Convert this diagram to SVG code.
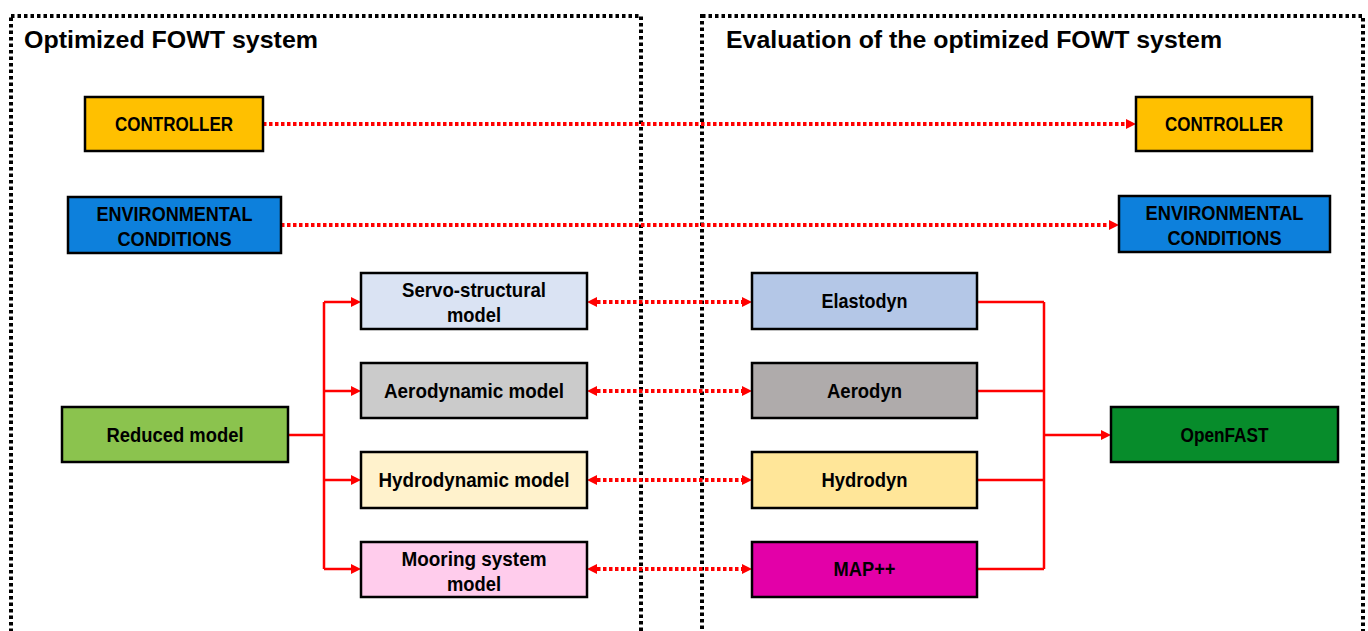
<svg xmlns="http://www.w3.org/2000/svg" width="1368" height="631" viewBox="0 0 1368 631">
<defs>
<style>
.frame{fill:none;stroke:#000;stroke-width:4;stroke-dasharray:3.5 3}
.box{stroke:#000;stroke-width:2.5}
.t{font-family:"Liberation Sans",Arial,sans-serif;font-weight:bold;font-size:20.5px;fill:#000;text-anchor:middle}
.title{font-family:"Liberation Sans",Arial,sans-serif;font-weight:bold;font-size:24px;fill:#000}
.solid{fill:none;stroke:#f00;stroke-width:2.5}
.dot{fill:none;stroke:#f00;stroke-width:4;stroke-dasharray:3.5 2.5}
</style>
<marker id="ah" viewBox="0 0 10 10" refX="0" refY="5" markerWidth="10" markerHeight="10" markerUnits="userSpaceOnUse" orient="auto-start-reverse">
<path d="M0,0 L10,5 L0,10 Z" fill="#f00"/>
</marker>
</defs>

<g id="frames">
<rect class="frame" x="11" y="16" width="630" height="640"/>
<rect class="frame" x="702" y="16" width="661" height="640"/>
<text class="title" x="24" y="48" textLength="294" lengthAdjust="spacingAndGlyphs">Optimized FOWT system</text>
<text class="title" x="726" y="48" textLength="496" lengthAdjust="spacingAndGlyphs">Evaluation of the optimized FOWT system</text>
</g>

<g id="connectors">
<path class="dot" d="M263,124 H1126" marker-end="url(#ah)"/>
<path class="dot" d="M281,225 H1109" marker-end="url(#ah)"/>
<path class="dot" d="M597,302 H742" marker-start="url(#ah)" marker-end="url(#ah)"/>
<path class="dot" d="M597,391 H742" marker-start="url(#ah)" marker-end="url(#ah)"/>
<path class="dot" d="M597,480 H742" marker-start="url(#ah)" marker-end="url(#ah)"/>
<path class="dot" d="M597,569 H742" marker-start="url(#ah)" marker-end="url(#ah)"/>
<path class="solid" d="M288,435 H324 M324,302 V569"/>
<path class="solid" d="M324,302 H351" marker-end="url(#ah)"/>
<path class="solid" d="M324,391 H351" marker-end="url(#ah)"/>
<path class="solid" d="M324,480 H351" marker-end="url(#ah)"/>
<path class="solid" d="M324,569 H351" marker-end="url(#ah)"/>
<path class="solid" d="M977,302 H1044 M977,391 H1044 M977,480 H1044 M977,569 H1044 M1044,302 V569"/>
<path class="solid" d="M1044,435 H1101" marker-end="url(#ah)"/>
</g>

<g id="controller-left">
<rect class="box" x="85" y="97" width="178" height="54" fill="#FFC000"/>
<text class="t" x="174" y="131" textLength="118" lengthAdjust="spacingAndGlyphs">CONTROLLER</text>
</g>
<g id="controller-right">
<rect class="box" x="1136" y="97" width="176" height="54" fill="#FFC000"/>
<text class="t" x="1224" y="131" textLength="118" lengthAdjust="spacingAndGlyphs">CONTROLLER</text>
</g>
<g id="env-left">
<rect class="box" x="68" y="197" width="213" height="56" fill="#0D80DC"/>
<text class="t" x="174.5" y="221" textLength="156" lengthAdjust="spacingAndGlyphs">ENVIRONMENTAL</text>
<text class="t" x="174.5" y="246" textLength="114" lengthAdjust="spacingAndGlyphs">CONDITIONS</text>
</g>
<g id="env-right">
<rect class="box" x="1119" y="196" width="211" height="56" fill="#0D80DC"/>
<text class="t" x="1224.5" y="220" textLength="158" lengthAdjust="spacingAndGlyphs">ENVIRONMENTAL</text>
<text class="t" x="1224.5" y="245" textLength="114" lengthAdjust="spacingAndGlyphs">CONDITIONS</text>
</g>
<g id="reduced-model">
<rect class="box" x="62" y="407" width="226" height="55" fill="#8BC34E"/>
<text class="t" x="175" y="442" textLength="137" lengthAdjust="spacingAndGlyphs">Reduced model</text>
</g>
<g id="servo-structural">
<rect class="box" x="361" y="273" width="226" height="56" fill="#DAE3F3"/>
<text class="t" x="474" y="297" textLength="144" lengthAdjust="spacingAndGlyphs">Servo-structural</text>
<text class="t" x="474" y="322" textLength="54" lengthAdjust="spacingAndGlyphs">model</text>
</g>
<g id="aerodynamic-model">
<rect class="box" x="361" y="363" width="226" height="55" fill="#CBCBCB"/>
<text class="t" x="474" y="398" textLength="180" lengthAdjust="spacingAndGlyphs">Aerodynamic model</text>
</g>
<g id="hydrodynamic-model">
<rect class="box" x="361" y="452" width="226" height="56" fill="#FFF2CC"/>
<text class="t" x="474" y="487" textLength="191" lengthAdjust="spacingAndGlyphs">Hydrodynamic model</text>
</g>
<g id="mooring-model">
<rect class="box" x="361" y="542" width="226" height="55" fill="#FFCCEC"/>
<text class="t" x="474" y="566" textLength="145" lengthAdjust="spacingAndGlyphs">Mooring system</text>
<text class="t" x="474" y="591" textLength="54" lengthAdjust="spacingAndGlyphs">model</text>
</g>
<g id="elastodyn">
<rect class="box" x="752" y="273" width="225" height="56" fill="#B4C7E7"/>
<text class="t" x="864.5" y="308" textLength="86" lengthAdjust="spacingAndGlyphs">Elastodyn</text>
</g>
<g id="aerodyn">
<rect class="box" x="752" y="363" width="225" height="55" fill="#AFABAB"/>
<text class="t" x="864.5" y="398" textLength="75" lengthAdjust="spacingAndGlyphs">Aerodyn</text>
</g>
<g id="hydrodyn">
<rect class="box" x="752" y="452" width="225" height="56" fill="#FFE699"/>
<text class="t" x="864.5" y="487" textLength="86" lengthAdjust="spacingAndGlyphs">Hydrodyn</text>
</g>
<g id="mappp">
<rect class="box" x="752" y="542" width="225" height="55" fill="#E300A8"/>
<text class="t" x="864.5" y="576" textLength="62" lengthAdjust="spacingAndGlyphs">MAP++</text>
</g>
<g id="openfast">
<rect class="box" x="1111" y="407" width="227" height="55" fill="#078C2B"/>
<text class="t" x="1224.5" y="442" textLength="88" lengthAdjust="spacingAndGlyphs">OpenFAST</text>
</g>
</svg>
